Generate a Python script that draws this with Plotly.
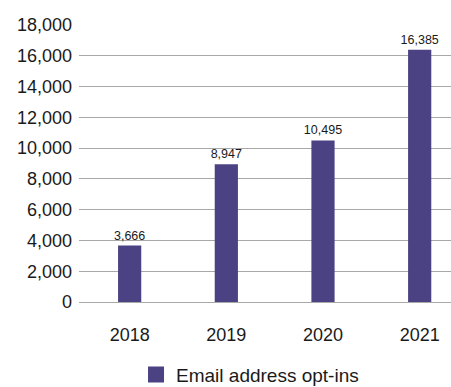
import plotly.graph_objects as go

years = ["2018", "2019", "2020", "2021"]
optins = [3666, 8947, 10495, 16385]
series_name = "Email address opt-ins"
y_ticks = [0, 2000, 4000, 6000, 8000, 10000, 12000, 14000, 16000, 18000]

bar_color = "#4b4283"
text_color = "#1a1a1a"
grid_color = "#a8a8a8"

fig = go.Figure()
fig.add_trace(go.Bar(
    x=years, y=optins, name=series_name,
    marker=dict(color=bar_color, line=dict(width=0)),
    width=0.24,
    text=[f"{v:,}" for v in optins],
    textposition="outside",
    constraintext="none",
    textfont=dict(size=12.5, color=text_color),
    cliponaxis=False,
    showlegend=False,
))
# legend entry with a larger square swatch
fig.add_trace(go.Scatter(
    x=[None], y=[None], mode="markers", name=series_name,
    marker=dict(symbol="square", size=16, color=bar_color),
))

fig.update_layout(
    width=451, height=387,
    margin=dict(l=79, r=0, t=25, b=85),
    paper_bgcolor="white", plot_bgcolor="white",
    font=dict(family="Liberation Sans, Arial, sans-serif", size=18, color=text_color),
    showlegend=True,
    legend=dict(orientation="h", xref="container", yref="container",
                x=0.3016, xanchor="left", y=0.032, yanchor="middle",
                font=dict(size=19), itemwidth=30),
)
fig.update_xaxes(type="category", range=[-0.524, 3.324], showgrid=False,
                 showline=False, ticks="", ticklabelstandoff=20,
                 tickfont=dict(size=18))
fig.update_yaxes(range=[0, 18000], tickvals=y_ticks,
                 ticktext=[f"{v:,}" for v in y_ticks],
                 showgrid=True, gridcolor=grid_color, gridwidth=1,
                 zeroline=True, zerolinecolor=grid_color, zerolinewidth=1,
                 showline=False, ticks="", ticklabelstandoff=6,
                 tickfont=dict(size=18))

fig.write_html("out.html")
